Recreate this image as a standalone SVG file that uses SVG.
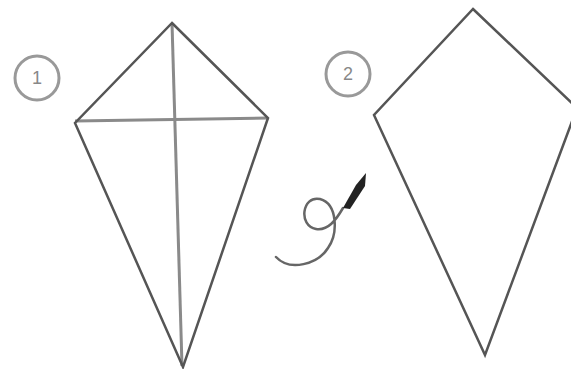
<svg xmlns="http://www.w3.org/2000/svg" width="571" height="369" viewBox="0 0 571 369">
<style>
.edge{fill:none;stroke:#555;stroke-width:2.5;stroke-linejoin:miter}
.stick{fill:none;stroke:#8a8a8a;stroke-width:3}
.badge{fill:none;stroke:#999;stroke-width:3}
.num{font-family:"Liberation Sans",Arial,sans-serif;font-size:18px;fill:#888;text-anchor:middle}
</style>
<rect width="571" height="369" fill="#fff"/>
<g id="label1">
<circle class="badge" cx="37" cy="78" r="22"/>
<text class="num" x="37" y="84">1</text>
</g>
<g id="label2">
<circle class="badge" cx="348" cy="74" r="22"/>
<text class="num" x="348" y="80">2</text>
</g>
<g id="kite1">
<line class="stick" x1="75" y1="121" x2="268" y2="118"/>
<line class="stick" x1="172" y1="23" x2="182" y2="366"/>
<polygon class="edge" points="172,23 268,118 183,367 75,123"/>
</g>
<g id="kite2">
<polygon class="edge" points="473,9 577,108 485,355 374,115"/>
</g>
<g id="connectors">
<path d="M276,257 C290,272 318,264 328,248 C338,234 338,204 320,199 C302,195 298,226 316,229 C328,231 336,220 343,208" fill="none" stroke="#666" stroke-width="2.5" stroke-linecap="round"/>
<path d="M343,208 L356,185 L366,173 L365,186 L350,209 Z" fill="#222"/>
</g>
</svg>
